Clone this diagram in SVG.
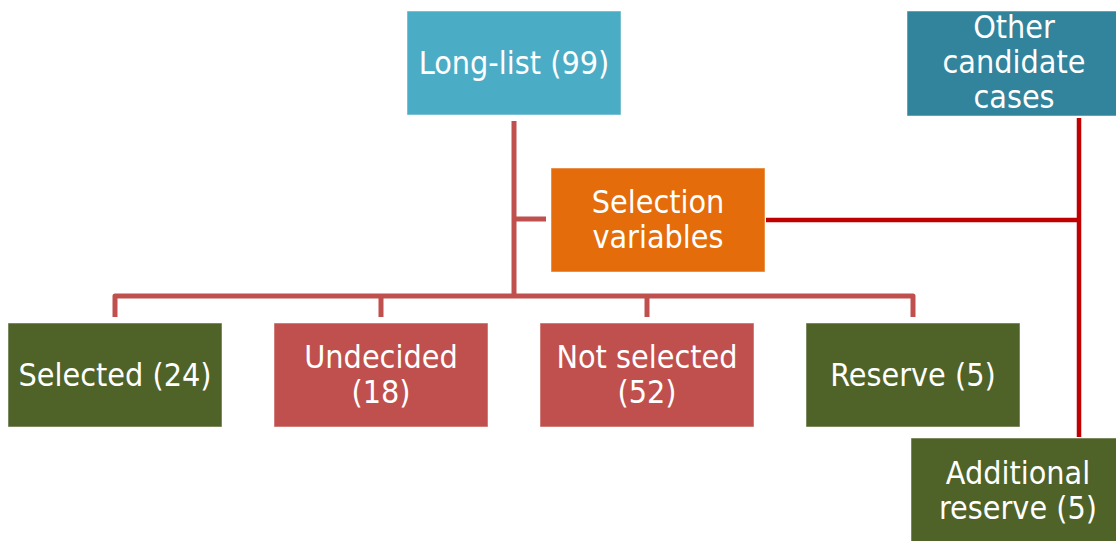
<svg xmlns="http://www.w3.org/2000/svg" width="1116" height="541" viewBox="0 0 1116 541">
<style>
.box{stroke:#ffffff;stroke-opacity:0.5;stroke-width:1}
.t{font-family:"DejaVu Sans Condensed","DejaVu Sans",sans-serif;font-stretch:condensed;font-size:32px;fill:#ffffff;text-anchor:middle}
.tree{fill:none;stroke:#C0504D;stroke-width:5;stroke-linejoin:round}
.red{fill:none;stroke:#C00000;stroke-width:4.5}
</style>
<rect width="1116" height="541" fill="#ffffff"/>
<g id="connectors">
<path class="tree" d="M514,121 V296 M514,219 H546 M115,317 V296 H913 V317 M381,296 V317 M647,296 V317"/>
<path class="red" d="M1079,118 V437 M766,220 H1079"/>
</g>
<g id="longlist">
<rect class="box" x="407" y="11" width="214" height="104" fill="#4BACC6"/>
<text class="t" x="514" y="74">Long-list (99)</text>
</g>
<g id="other">
<rect class="box" x="907" y="11" width="214" height="105" fill="#31849B"/>
<text class="t" x="1014" y="38">Other</text>
<text class="t" x="1014" y="73">candidate</text>
<text class="t" x="1014" y="108">cases</text>
</g>
<g id="selection">
<rect class="box" x="551" y="168" width="214" height="104" fill="#E46C0A"/>
<text class="t" x="658" y="213">Selection</text>
<text class="t" x="658" y="248">variables</text>
</g>
<g id="selected">
<rect class="box" x="8" y="323" width="214" height="104" fill="#4F6228"/>
<text class="t" x="115" y="386">Selected (24)</text>
</g>
<g id="undecided">
<rect class="box" x="274" y="323" width="214" height="104" fill="#C0504D"/>
<text class="t" x="381" y="368">Undecided</text>
<text class="t" x="381" y="403">(18)</text>
</g>
<g id="notselected">
<rect class="box" x="540" y="323" width="214" height="104" fill="#C0504D"/>
<text class="t" x="647" y="368">Not selected</text>
<text class="t" x="647" y="403">(52)</text>
</g>
<g id="reserve">
<rect class="box" x="806" y="323" width="214" height="104" fill="#4F6228"/>
<text class="t" x="913" y="386">Reserve (5)</text>
</g>
<g id="additional">
<rect class="box" x="911" y="438" width="214" height="110" fill="#4F6228"/>
<text class="t" x="1018" y="484">Additional</text>
<text class="t" x="1018" y="519">reserve (5)</text>
</g>
</svg>
